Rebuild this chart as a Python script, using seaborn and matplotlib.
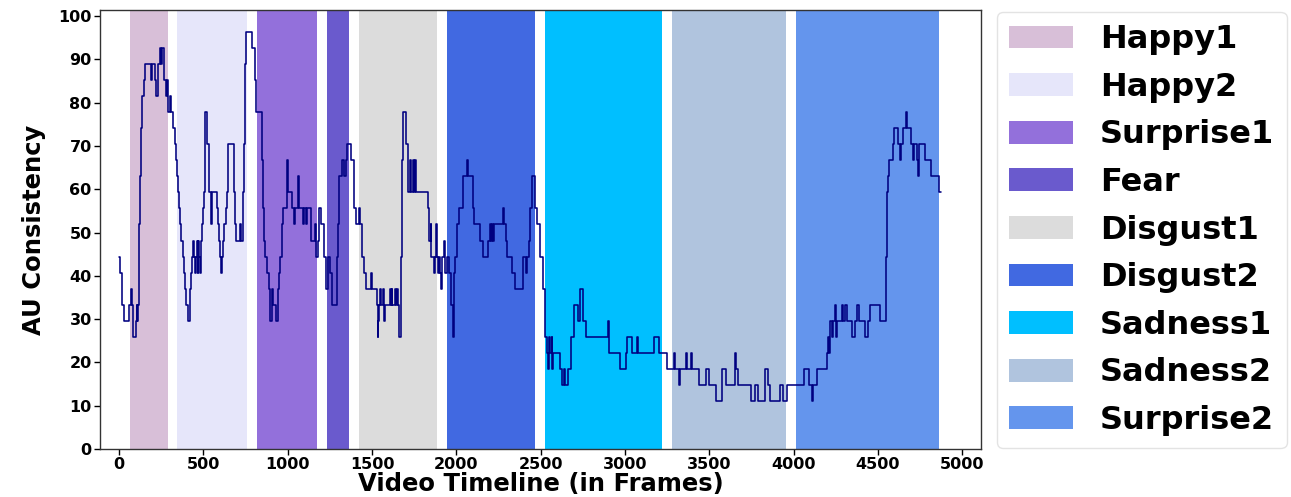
import matplotlib
matplotlib.use("Agg")
import matplotlib.pyplot as plt
import seaborn as sns
import pandas as pd

# ---- data ----
emotions = ["Happy1", "Happy2", "Surprise1", "Fear", "Disgust1", "Disgust2",
            "Sadness1", "Sadness2", "Surprise2"]
span_start = [65, 344, 820, 1232, 1422, 1944, 2527, 3278, 4015]
span_end = [290, 761, 1175, 1364, 1886, 2469, 3219, 3958, 4860]
span_colors = ["thistle", "lavender", "mediumpurple", "slateblue", "gainsboro",
               "royalblue", "deepskyblue", "lightsteelblue", "cornflowerblue"]

frames = [0, 8, 20, 30, 60, 68, 75, 80, 100, 104, 108, 112, 116, 120, 124, 128, 134, 148, 154,
          188, 196, 212, 220, 230, 241, 249, 257, 267, 277, 285, 290, 300, 306, 322, 330, 336,
          342, 350, 356, 362, 370, 378, 386, 394, 400, 406, 418, 422, 426, 433, 440, 446, 452,
          456, 462, 466, 470, 476, 480, 484, 490, 496, 502, 508, 512, 520, 532, 536, 544, 550,
          580, 586, 592, 598, 602, 610, 616, 624, 632, 638, 644, 648, 680, 688, 694, 716, 722,
          734, 738, 741, 745, 748, 751, 755, 789, 804, 812, 846, 852, 858, 866, 880, 892, 898,
          906, 914, 930, 940, 950, 957, 966, 972, 994, 1000, 1026, 1040, 1046, 1062, 1068, 1090,
          1096, 1110, 1116, 1140, 1160, 1170, 1178, 1188, 1198, 1216, 1230, 1240, 1250, 1262,
          1290, 1298, 1306, 1322, 1336, 1344, 1352, 1374, 1396, 1404, 1426, 1430, 1440, 1450,
          1465, 1496, 1500, 1530, 1534, 1538, 1544, 1550, 1554, 1568, 1572, 1578, 1606, 1610,
          1616, 1620, 1634, 1640, 1646, 1654, 1660, 1670, 1674, 1680, 1686, 1700, 1716, 1728,
          1734, 1744, 1750, 1756, 1762, 1830, 1840, 1848, 1852, 1870, 1876, 1882, 1886, 1892,
          1898, 1904, 1910, 1916, 1928, 1936, 1946, 1956, 1970, 1978, 1988, 1994, 2006, 2016,
          2040, 2066, 2072, 2100, 2106, 2142, 2160, 2188, 2202, 2208, 2214, 2220, 2226, 2276,
          2282, 2296, 2302, 2330, 2350, 2398, 2412, 2420, 2434, 2440, 2452, 2466, 2476, 2498,
          2512, 2526, 2536, 2546, 2552, 2558, 2566, 2570, 2576, 2615, 2625, 2640, 2645, 2665,
          2680, 2698, 2724, 2736, 2752, 2768, 2902, 2908, 2972, 3004, 3014, 3040, 3072, 3078,
          3171, 3200, 3250, 3290, 3300, 3320, 3326, 3364, 3370, 3394, 3400, 3440, 3484, 3500,
          3540, 3576, 3600, 3654, 3658, 3670, 3750, 3772, 3792, 3832, 3848, 3862, 3922, 3936,
          3962, 4062, 4090, 4110, 4116, 4140, 4198, 4206, 4212, 4216, 4228, 4236, 4248, 4254,
          4260, 4286, 4292, 4306, 4320, 4348, 4362, 4376, 4386, 4426, 4442, 4456, 4515, 4548,
          4552, 4558, 4564, 4588, 4598, 4622, 4632, 4640, 4652, 4666, 4672, 4694, 4706, 4712,
          4734, 4740, 4746, 4780, 4816, 4860, 4872]

au_consistency = [44.4, 40.7, 33.3, 29.6, 33.3, 37.0, 33.3, 25.9, 29.6, 33.3, 29.6, 33.3, 40.7,
                  51.9, 63.0, 74.1, 81.5, 85.2, 88.9, 85.2, 88.9, 85.2, 81.5, 88.9, 92.6, 88.9,
                  92.6, 85.2, 81.5, 85.2, 77.8, 81.5, 77.8, 74.1, 70.4, 66.7, 63.0, 59.3, 55.6,
                  51.9, 48.1, 44.4, 40.7, 37.0, 33.3, 29.6, 33.3, 37.0, 40.7, 44.4, 48.1, 44.4,
                  40.7, 44.4, 48.1, 40.7, 48.1, 44.4, 40.7, 48.1, 51.9, 55.6, 59.3, 66.7, 77.8,
                  70.4, 66.7, 59.3, 51.9, 59.3, 55.6, 51.9, 48.1, 44.4, 40.7, 44.4, 48.1, 51.9,
                  55.6, 59.3, 63.0, 70.4, 59.3, 51.9, 48.1, 51.9, 48.1, 51.9, 59.3, 70.4, 81.5,
                  88.9, 92.6, 96.3, 92.6, 85.2, 77.8, 66.7, 55.6, 48.1, 44.4, 40.7, 37.0, 29.6,
                  37.0, 33.3, 29.6, 37.0, 40.7, 44.4, 51.9, 55.6, 66.7, 59.3, 55.6, 51.9, 55.6,
                  63.0, 55.6, 51.9, 55.6, 51.9, 55.6, 48.1, 51.9, 44.4, 48.1, 55.6, 51.9, 44.4,
                  37.0, 44.4, 40.7, 33.3, 44.4, 51.9, 63.0, 66.7, 63.0, 66.7, 70.4, 66.7, 55.6,
                  51.9, 55.6, 51.9, 44.4, 40.7, 37.0, 40.7, 37.0, 33.3, 25.9, 29.6, 33.3, 37.0,
                  33.3, 37.0, 29.6, 33.3, 37.0, 33.3, 37.0, 33.3, 37.0, 33.3, 37.0, 33.3, 25.9,
                  29.6, 44.4, 66.7, 77.8, 70.4, 59.3, 66.7, 59.3, 66.7, 59.3, 66.7, 59.3, 55.6,
                  48.1, 51.9, 44.4, 40.7, 44.4, 51.9, 44.4, 40.7, 44.4, 40.7, 37.0, 44.4, 48.1,
                  40.7, 44.4, 40.7, 33.3, 25.9, 40.7, 44.4, 51.9, 55.6, 63.0, 66.7, 63.0, 55.6,
                  51.9, 48.1, 44.4, 48.1, 51.9, 48.1, 51.9, 48.1, 51.9, 55.6, 51.9, 48.1, 44.4,
                  40.7, 37.0, 44.4, 40.7, 44.4, 48.1, 55.6, 63.0, 55.6, 51.9, 44.4, 37.0, 25.9,
                  22.2, 18.5, 25.9, 22.2, 25.9, 18.5, 22.2, 18.5, 14.8, 18.5, 14.8, 18.5, 25.9,
                  33.3, 29.6, 37.0, 29.6, 25.9, 29.6, 22.2, 18.5, 22.2, 25.9, 22.2, 25.9, 22.2,
                  25.9, 22.2, 18.5, 22.2, 18.5, 14.8, 18.5, 22.2, 18.5, 22.2, 18.5, 14.8, 18.5,
                  14.8, 11.1, 18.5, 14.8, 22.2, 18.5, 14.8, 11.1, 14.8, 11.1, 18.5, 14.8, 11.1,
                  14.8, 11.1, 14.8, 18.5, 14.8, 11.1, 14.8, 18.5, 22.2, 25.9, 22.2, 29.6, 25.9,
                  29.6, 33.3, 25.9, 29.6, 33.3, 29.6, 33.3, 29.6, 25.9, 29.6, 33.3, 29.6, 25.9,
                  29.6, 33.3, 29.6, 44.4, 59.3, 63.0, 66.7, 70.4, 74.1, 70.4, 66.7, 70.4, 74.1,
                  77.8, 74.1, 70.4, 66.7, 70.4, 66.7, 63.0, 70.4, 66.7, 63.0, 59.3, 59.3]

x_ticks = [0, 500, 1000, 1500, 2000, 2500, 3000, 3500, 4000, 4500, 5000]
y_ticks = [0, 10, 20, 30, 40, 50, 60, 70, 80, 90, 100]

# ---- plot ----
sns.set_theme(style="ticks")
plt.rcParams["font.family"] = ["DejaVu Sans"]
plt.rcParams["font.weight"] = "bold"
plt.rcParams["text.color"] = "black"
plt.rcParams["axes.labelcolor"] = "black"
plt.rcParams["xtick.color"] = "black"
plt.rcParams["ytick.color"] = "black"

fig = plt.figure(figsize=(12.91, 4.97), dpi=100)
ax = fig.add_axes([100 / 1291, 1 - 449 / 497, 881 / 1291, 439 / 497])

for name, s, e, c in zip(emotions, span_start, span_end, span_colors):
    ax.axvspan(s, e, color=c, label=name, lw=0)

df = pd.DataFrame({"frame": frames, "au": au_consistency})
sns.lineplot(data=df, x="frame", y="au", ax=ax, color="navy", linewidth=1.15,
             drawstyle="steps-post", legend=False)

ax.set_xlim(-113, 5112)
ax.set_ylim(0, 101.4)
ax.set_xticks(x_ticks)
ax.set_yticks(y_ticks)
ax.tick_params(axis="both", labelsize=11.5, length=4, width=1, colors="black",
               direction="out", pad=2)
for lab in ax.get_xticklabels() + ax.get_yticklabels():
    lab.set_fontweight("bold")
ax.set_xlabel("Video Timeline (in Frames)", fontsize=17.5, fontweight="bold", labelpad=0)
ax.set_ylabel("AU Consistency", fontsize=17.5, fontweight="bold", labelpad=9)
for sp in ax.spines.values():
    sp.set_color("#333333")
    sp.set_linewidth(1.0)

handles, labels = ax.get_legend_handles_labels()
leg = fig.legend(handles, labels, loc="upper left",
                 bbox_to_anchor=(997 / 1291, 1 - 12 / 497), borderaxespad=0,
                 prop={"size": 23, "weight": "bold"}, handlelength=2.0, handleheight=0.72,
                 handletextpad=0.85, labelspacing=0.52, borderpad=0.38, frameon=True,
                 fancybox=True)
leg.get_frame().set_edgecolor("#dddddd")
for t in leg.get_texts():
    t.set_color("black")

fig.savefig("out.png", dpi=100)
